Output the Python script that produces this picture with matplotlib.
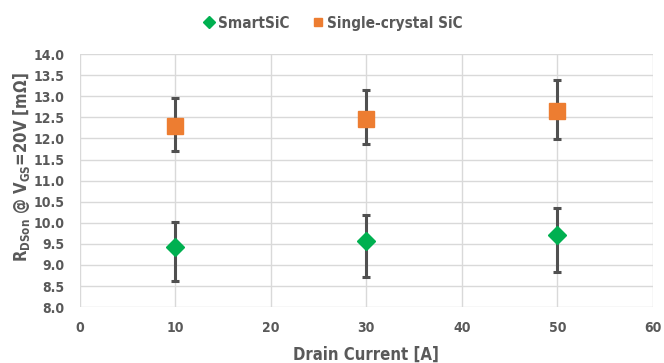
import numpy as np
import matplotlib
matplotlib.use("Agg")
import matplotlib.pyplot as plt

# data
current = [10, 30, 50]
smart = [9.43, 9.56, 9.71]
smart_lo = [8.61, 8.71, 8.83]
smart_hi = [10.01, 10.19, 10.36]
single = [12.30, 12.46, 12.65]
single_lo = [11.71, 11.86, 11.99]
single_hi = [12.95, 13.15, 13.38]

gray = "#595959"
plt.rcParams["font.family"] = "DejaVu Sans"
plt.rcParams["font.stretch"] = "condensed"
plt.rcParams["mathtext.fontset"] = "custom"
plt.rcParams["mathtext.rm"] = "DejaVu Sans:bold"

fig = plt.figure(figsize=(6.64, 3.63), dpi=100)
ax = fig.add_axes([0.1205, 0.154, 0.8625, 0.697])

def err(v, lo, hi):
    v = np.array(v)
    return [v - np.array(lo), np.array(hi) - v]

ax.errorbar(current, smart, yerr=err(smart, smart_lo, smart_hi), fmt="D",
            color="#00B050", ms=9, ecolor="#505050", elinewidth=2.2,
            capsize=2.6, capthick=2.2, label="SmartSiC", zorder=3)
ax.errorbar(current, single, yerr=err(single, single_lo, single_hi), fmt="s",
            color="#ED7D31", ms=11, ecolor="#505050", elinewidth=2.2,
            capsize=2.6, capthick=2.2, label="Single-crystal SiC", zorder=3)

ax.set_xlim(0, 60)
ax.set_ylim(8.0, 14.0)
ax.set_xticks(np.arange(0, 61, 10))
ax.set_yticks(np.arange(8.0, 14.01, 0.5))
ax.set_yticklabels([f"{v:.1f}" for v in np.arange(8.0, 14.01, 0.5)])
ax.grid(True, color="#d9d9d9", lw=1)
ax.set_axisbelow(True)
for s in ax.spines.values():
    s.set_visible(False)
ax.tick_params(axis="y", length=0, labelsize=10, labelcolor=gray, pad=11)
ax.tick_params(axis="x", length=0, labelsize=10, labelcolor=gray, pad=10)
for t in ax.get_xticklabels() + ax.get_yticklabels():
    t.set_fontweight("bold")

ax.set_xlabel("Drain Current [A]", fontsize=12, fontweight="bold", color=gray, labelpad=8)
fig.text(22 / 664, 1 - 167 / 363, r"R$_\mathrm{DSon}$ @ V$_\mathrm{GS}$=20V [mΩ]",
         fontsize=12, fontweight="bold", color=gray, rotation=90,
         ha="center", va="center")

handles, labels = ax.get_legend_handles_labels()
handles = [h[0] for h in handles]
leg = fig.legend(handles, labels, loc="upper center", bbox_to_anchor=(0.5, 0.995),
                 ncol=2, frameon=False, handletextpad=0.1, columnspacing=1.4,
                 handlelength=1.0, prop={"weight": "bold", "size": 11})
for h in leg.legend_handles:
    h.set_markersize(6)
for t in leg.get_texts():
    t.set_color(gray)

fig.savefig("out.png", dpi=100)
